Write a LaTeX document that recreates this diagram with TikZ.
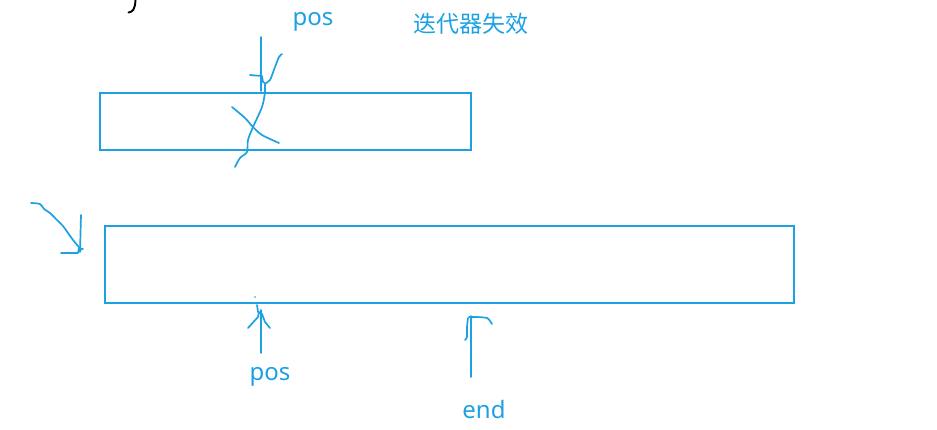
\documentclass[tikz,border=0pt]{standalone}
\usepackage{fontspec}
\setmainfont{Noto Sans}
\newfontfamily\cjk{Noto Sans CJK SC}
\usetikzlibrary{positioning}
\definecolor{inkblue}{RGB}{29,161,226}

\begin{document}
\begin{tikzpicture}[x=1pt, y=-1pt,
  ink/.style={inkblue, line width=1.7pt, line cap=round, line join=round},
  frame/.style={draw=inkblue, line width=2.2pt, inner sep=0pt},
  lbl/.style={inkblue, inner sep=0pt, font=\fontsize{24}{28}\selectfont}]
  \useasboundingbox (0,0) rectangle (937,429);
  % Cut-off brace at the top
  \draw[black, line width=1.9pt, line cap=round]
    (135.5,0) .. controls (135,9) and (133,12) .. (128.5,12.5);
  % The two buffers
  \node[frame, minimum width=371pt, minimum height=57pt] (oldbuf) at (285.5,121.5) {};
  \node[frame, minimum width=689pt, minimum height=77pt] (newbuf) at (449.5,264.5) {};
  % Labels
  \node[lbl] (toppos) at (313,22) {pos};
  \node[lbl, font=\fontsize{23}{28}\selectfont\cjk] (invalid) at (471,24) {迭代器失效};
  \node[lbl] (botpos) at (270,377) {pos};
  \node[lbl] (endlbl) at (484,409) {end};
  % Old pos, crossed out
  \draw[ink] (261,37) -- (261,91);
  \draw[ink] (250,75) -- (262,76) -- (263,82) -- (265,83);
  \draw[ink] plot[smooth] coordinates {(282,54) (279,57) (275,67) (270,80)
    (265,84) (265,92) (262,107) (253,127) (248,140) (247,152) (240,158) (235,167)};
  \draw[ink] plot[smooth] coordinates {(232,107) (245,118) (253,127) (262,135) (279,143)};
  % Arrow to the new buffer
  \draw[ink] plot[smooth] coordinates {(31,203) (40,204) (44,209) (50,213)
    (57,220) (63,226) (68,233) (73,240) (78,246) (81,250)};
  \draw[ink] (81,215) -- (80,252);
  \draw[ink] (61,253) -- (78,253) -- (79,248) -- (83,249);
  % New pos
  \fill[inkblue] (255,297) circle (0.9pt);
  \draw[ink] (261,310) -- (261,353);
  \draw[ink] (257,305) -- (258,312);
  \draw[ink] (248,328) -- (258,317) -- (259,312) -- (262,314) -- (265,322) -- (270,328);
  % New end
  \draw[ink] (471,316) -- (471,377);
  \fill[inkblue] (471,374) circle (1.2pt);
  \draw[ink] plot[smooth] coordinates {(469,317) (477,317) (487,318) (490,321) (492,324)};
  \draw[ink] plot[smooth] coordinates {(465,340) (467,337) (467,327) (468,318)};
\end{tikzpicture}
\end{document}
